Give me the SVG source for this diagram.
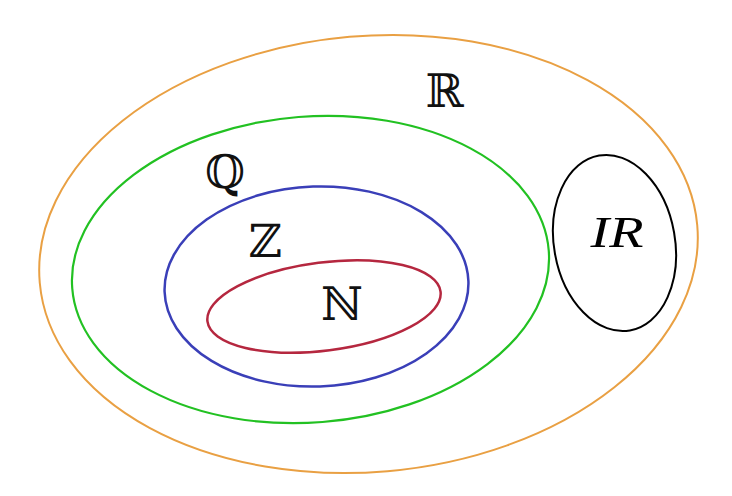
<svg xmlns="http://www.w3.org/2000/svg" width="732" height="496" viewBox="0 0 732 496">
<style>
.set{fill:none}
.bb{font-family:"DejaVu Serif","DejaVu Sans",serif;font-size:46px;fill:#111;text-anchor:middle}
.it{font-family:"Liberation Serif","DejaVu Serif",serif;font-style:italic;font-size:45px;fill:#000;text-anchor:middle}
</style>
<rect width="732" height="496" fill="#fff"/>
<g id="reals">
<ellipse class="set" cx="368.5" cy="254" rx="330" ry="218" transform="rotate(-5 368.5 254)" stroke="#E9A043" stroke-width="2"/>
<text class="bb" x="444.5" y="107">ℝ</text>
</g>
<g id="rationals">
<ellipse class="set" cx="310.5" cy="269.5" rx="239" ry="153" transform="rotate(-4.5 310.5 269.5)" stroke="#22C122" stroke-width="2.2"/>
<text class="bb" x="225" y="188">ℚ</text>
</g>
<g id="integers">
<ellipse class="set" cx="316.5" cy="286.5" rx="152" ry="100" transform="rotate(-2 316.5 286.5)" stroke="#3A3FB8" stroke-width="2.5"/>
<text class="bb" x="265" y="257">ℤ</text>
</g>
<g id="naturals">
<ellipse class="set" cx="324" cy="306.5" rx="117.5" ry="44" transform="rotate(-7.3 324 306.5)" stroke="#B5273F" stroke-width="2.5"/>
<text class="bb" x="342" y="320">ℕ</text>
</g>
<g id="irrationals">
<ellipse class="set" cx="614.5" cy="243" rx="60.5" ry="88.8" transform="rotate(-10 614.5 243)" stroke="#000" stroke-width="2"/>
<text class="it" x="617" y="247" textLength="53" lengthAdjust="spacingAndGlyphs">IR</text>
</g>
<g id="connectors"></g>
</svg>
